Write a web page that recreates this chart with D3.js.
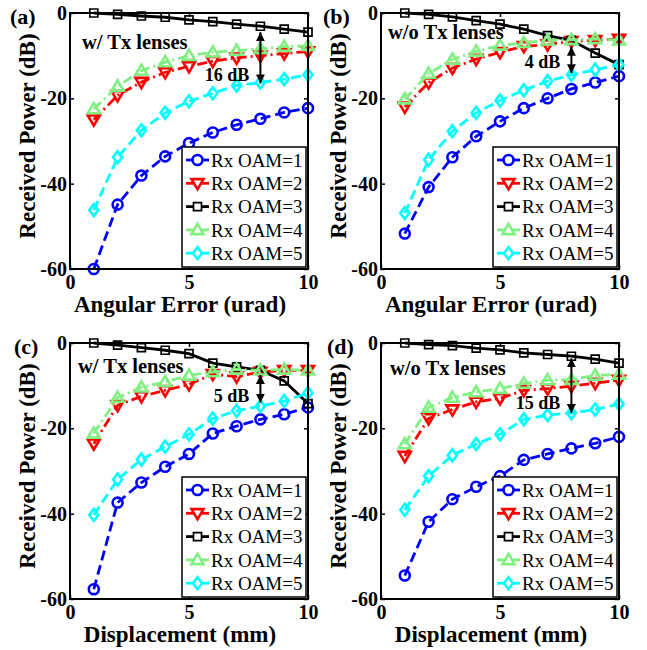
<!DOCTYPE html>
<html>
<head>
<meta charset="utf-8">
<script src="https://cdn.jsdelivr.net/npm/d3@7"></script>
<style>
  body { margin: 0; background: #fff; }
  text { font-family: "Liberation Serif", "Times New Roman", serif; }
</style>
</head>
<body>
<script>
// x positions (urad for a/b, mm for c/d)
var xs = [1, 2, 3, 4, 5, 6, 7, 8, 9, 10];
var names = ["Rx OAM=1", "Rx OAM=2", "Rx OAM=3", "Rx OAM=4", "Rx OAM=5"];
var yTicks = [0, -20, -40, -60];
var xTicks = [0, 5, 10];

// (a) angular error, w/ Tx lenses
var pa1 = [-60, -44.9, -38.1, -33.6, -30.5, -28.0, -26.2, -24.8, -23.3, -22.3];
var pa2 = [-25.0, -19.3, -16.2, -13.9, -12.5, -11.3, -10.5, -10.0, -9.5, -9.0];
var pa3 = [0, -0.3, -0.7, -1.0, -1.6, -2.0, -2.6, -3.1, -3.8, -4.5];
var pa4 = [-22.5, -17.2, -13.5, -11.5, -10.0, -9.2, -8.8, -8.4, -7.9, -7.7];
var pa5 = [-46.2, -33.8, -27.5, -23.4, -20.7, -18.8, -17.0, -16.3, -15.5, -14.5];

// (b) angular error, w/o Tx lenses
var pb1 = [-51.7, -40.8, -33.8, -28.9, -25.4, -22.3, -20.0, -17.8, -16.3, -14.8];
var pb2 = [-22.0, -16.3, -12.9, -10.8, -9.2, -7.8, -7.4, -6.6, -6.4, -6.1];
var pb3 = [0, -0.3, -0.9, -1.8, -2.6, -3.8, -5.3, -6.4, -9.4, -12.1];
var pb4 = [-20.2, -14.2, -10.9, -9.0, -7.6, -7.0, -6.4, -6.3, -6.1, -6.4];
var pb5 = [-46.9, -34.4, -27.7, -23.4, -20.5, -18.1, -16.0, -14.5, -13.3, -12.1];

// (c) displacement, w/ Tx lenses
var pc1 = [-57.7, -37.4, -32.7, -29.0, -26.0, -21.2, -19.5, -17.9, -16.7, -15.1];
var pc2 = [-23.6, -14.6, -12.5, -11.1, -9.7, -7.3, -7.9, -6.8, -6.4, -6.4];
var pc3 = [0, -0.5, -1.1, -1.7, -2.5, -4.7, -5.6, -6.4, -8.9, -14.2];
var pc4 = [-21.2, -12.8, -10.4, -9.1, -7.6, -6.8, -6.2, -6.4, -6.2, -6.4];
var pc5 = [-40.3, -32.0, -27.3, -24.3, -21.4, -17.7, -15.9, -14.8, -13.6, -11.7];

// (d) displacement, w/o Tx lenses
var pd1 = [-54.5, -41.9, -36.6, -33.7, -31.2, -27.4, -26.0, -24.7, -23.5, -22.0];
var pd2 = [-26.5, -17.7, -15.6, -13.8, -13.0, -11.1, -10.7, -10.1, -9.4, -8.7];
var pd3 = [0, -0.4, -0.6, -1.2, -1.6, -2.3, -2.7, -3.1, -3.8, -4.7];
var pd4 = [-23.7, -15.1, -12.8, -11.5, -10.7, -9.5, -8.7, -8.6, -7.6, -7.4];
var pd5 = [-39.1, -31.2, -26.3, -23.7, -21.4, -17.9, -16.9, -16.4, -15.6, -14.3];

// gap annotations: [x, from dB, to dB, label, label dB]
var gapA = [8, -4.5, -16.5, "16 dB", -14.5];
var gapB = [8, -7.9, -14.1, "4 dB", -11.5];
var gapC = [8, -7.5, -14.0, "5 dB", -12.4];
var gapD = [8, -3.6, -16.4, "15 dB", -14.1];

var styles = [
  {color: "#0000ff", dash: "10,5", marker: "circle"},
  {color: "#ff0000", dash: "10,4,2,4", marker: "tridown"},
  {color: "#000000", dash: null, marker: "square"},
  {color: "#80f080", dash: "10,4,2,4", marker: "triup"},
  {color: "#00ffff", dash: "10,5", marker: "diamond"}
];

var svg = d3.select("body").append("svg")
  .attr("width", 647)
  .attr("height", 650);

svg.append("defs").append("marker")
  .attr("id", "head")
  .attr("viewBox", "0 0 10 10")
  .attr("refX", 10).attr("refY", 5)
  .attr("markerWidth", 4.5).attr("markerHeight", 4.5)
  .attr("markerUnits", "strokeWidth")
  .attr("orient", "auto-start-reverse")
  .append("path").attr("d", "M0,0L10,5L0,10z").attr("fill", "#000");

function markerPath(type) {
  if (type == "circle") return d3.symbol(d3.symbolCircle, 78)();
  if (type == "square") return "M-4,-4H4V4H-4Z";
  if (type == "triup") return "M0,-6L6,4.2L-6,4.2Z";
  if (type == "tridown") return "M0,6L6,-4.2L-6,-4.2Z";
  return "M0,-6L4.5,0L0,6L-4.5,0Z";
}

function markerWidth(type) {
  return type == "square" ? 1.7 : 2.6;
}

var W = 238, H = 256;

function drawPanel(p) {
  var g = svg.append("g").attr("transform", "translate(" + p.left + "," + p.top + ")");
  var x = d3.scaleLinear().domain([0, 10]).range([0, W]);
  var y = d3.scaleLinear().domain([-60, 0]).range([H, 0]);

  // axes with inward ticks
  var left = g.append("g")
    .call(d3.axisLeft(y).tickValues(yTicks).tickSizeInner(-4).tickSizeOuter(0).tickPadding(3));
  g.append("g").attr("transform", "translate(0," + H + ")")
    .call(d3.axisBottom(x).tickValues(xTicks).tickSizeInner(-4).tickSizeOuter(0).tickPadding(6));
  g.append("g").attr("transform", "translate(" + W + ",0)")
    .call(d3.axisRight(y).tickValues(yTicks).tickSizeInner(-4).tickSizeOuter(0).tickFormat(""));
  g.append("g")
    .call(d3.axisTop(x).tickValues(xTicks).tickSizeInner(-4).tickSizeOuter(0).tickFormat(""));
  g.selectAll(".domain").remove();
  g.selectAll(".tick line").attr("stroke", "#000").attr("stroke-width", 1.5);
  g.selectAll(".tick text")
    .style("font-family", "'Liberation Serif', 'Times New Roman', serif")
    .style("font-size", "20px").style("font-weight", "bold").attr("fill", "#000");
  left.selectAll(".tick text").text(function(d) { return d == 0 ? "0" : "-" + Math.abs(d); });

  var line = d3.line().x(function(d, i) { return x(xs[i]); }).y(function(d) { return y(d); });

  p.series.forEach(function(vals, k) {
    var s = styles[k];
    g.append("path")
      .attr("d", line(vals))
      .attr("fill", "none")
      .attr("stroke", s.color)
      .attr("stroke-width", 2.8)
      .attr("stroke-dasharray", s.dash);
    g.selectAll(null).data(vals).enter().append("path")
      .attr("d", markerPath(s.marker))
      .attr("transform", function(d, i) { return "translate(" + x(xs[i]) + "," + y(d) + ")"; })
      .attr("fill", "none")
      .attr("stroke", s.color)
      .attr("stroke-width", markerWidth(s.marker));
  });

  // gap arrow
  var gp = p.gap;
  g.append("line")
    .attr("x1", x(gp[0])).attr("x2", x(gp[0]))
    .attr("y1", y(gp[1])).attr("y2", y(gp[2]))
    .attr("stroke", "#000").attr("stroke-width", 2)
    .attr("marker-start", "url(#head)").attr("marker-end", "url(#head)");
  g.append("text")
    .attr("x", x(gp[0]) - 11).attr("y", y(gp[4]))
    .attr("dy", "0.35em")
    .attr("text-anchor", "end")
    .style("font-size", "18px").style("font-weight", "bold")
    .text(gp[3]);

  g.append("text")
    .attr("x", p.noteX).attr("y", p.noteY)
    .style("font-size", "20.5px").style("font-weight", "bold")
    .text(p.note);

  // legend
  var lg = g.append("g").attr("transform", "translate(" + (W - 126) + "," + (H - 122) + ")");
  lg.append("rect").attr("width", 124).attr("height", 120)
    .attr("fill", "#fff").attr("stroke", "#000").attr("stroke-width", 1.5);
  names.forEach(function(n, k) {
    var s = styles[k];
    var ry = 13 + k * 23.3;
    lg.append("line").attr("x1", 4).attr("x2", 27).attr("y1", ry).attr("y2", ry)
      .attr("stroke", s.color).attr("stroke-width", 2.8);
    lg.append("path").attr("d", markerPath(s.marker))
      .attr("transform", "translate(15.5," + ry + ")")
      .attr("fill", "#fff").attr("stroke", s.color)
      .attr("stroke-width", markerWidth(s.marker));
    lg.append("text").attr("x", 29).attr("y", ry).attr("dy", "0.35em")
      .style("font-size", "19px").text(n);
  });

  // frame
  g.append("rect").attr("width", W).attr("height", H)
    .attr("fill", "none").attr("stroke", "#000").attr("stroke-width", 2);

  g.append("text")
    .attr("transform", "translate(-43," + (H / 2 - 5) + ") rotate(-90)")
    .attr("text-anchor", "middle").attr("dy", "0.35em")
    .style("font-size", "23px").style("font-weight", "bold")
    .text("Received Power (dB)");
  g.append("text")
    .attr("x", W / 2 - 9).attr("y", H + 43)
    .attr("text-anchor", "middle")
    .style("font-size", "23px").style("font-weight", "bold")
    .text(p.xlabel);
  g.append("text")
    .attr("x", p.tagX).attr("y", 11)
    .style("font-size", "22px").style("font-weight", "bold")
    .text(p.tag);
}

drawPanel({left: 70, top: 13, series: [pa1, pa2, pa3, pa4, pa5], gap: gapA,
  note: "w/ Tx lenses", noteX: 12, noteY: 36, xlabel: "Angular Error (urad)", tag: "(a)", tagX: -60});
drawPanel({left: 381, top: 13, series: [pb1, pb2, pb3, pb4, pb5], gap: gapB,
  note: "w/o Tx lenses", noteX: 7, noteY: 26, xlabel: "Angular Error (urad)", tag: "(b)", tagX: -58});
drawPanel({left: 70, top: 343, series: [pc1, pc2, pc3, pc4, pc5], gap: gapC,
  note: "w/ Tx lenses", noteX: 8, noteY: 30, xlabel: "Displacement (mm)", tag: "(c)", tagX: -56});
drawPanel({left: 381, top: 343, series: [pd1, pd2, pd3, pd4, pd5], gap: gapD,
  note: "w/o Tx lenses", noteX: 9, noteY: 32, xlabel: "Displacement (mm)", tag: "(d)", tagX: -54});
</script>
</body>
</html>
